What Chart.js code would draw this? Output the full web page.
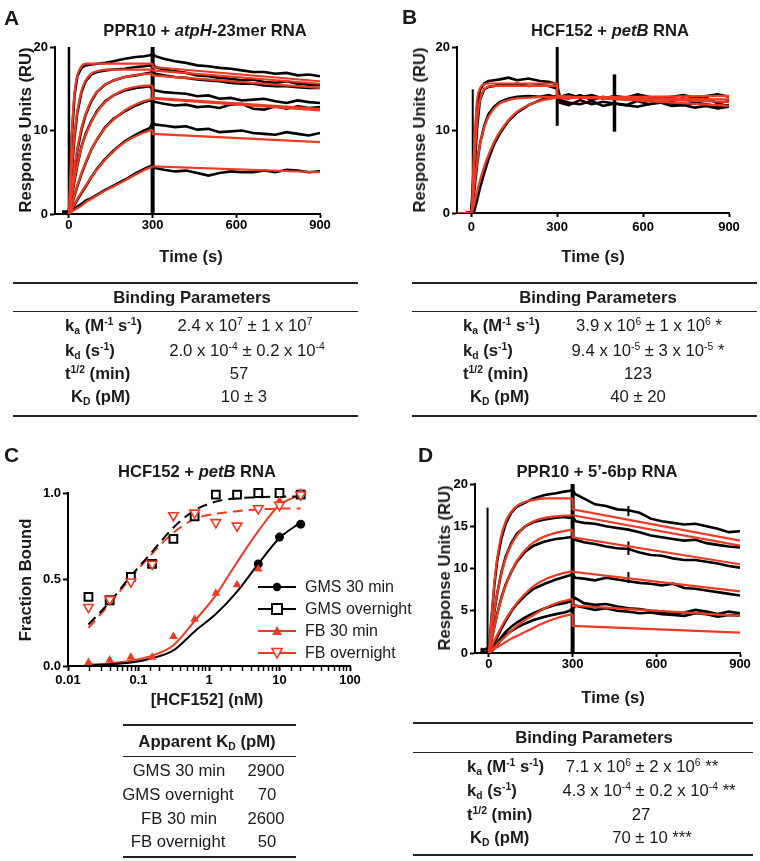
<!DOCTYPE html>
<html lang="en">
<head>
<meta charset="UTF-8">
<title>PPR10 and HCF152 binding kinetics</title>
<style>
  body { margin: 0; background: #fff; }
  #fig { position: relative; width: 760px; height: 861px; overflow: hidden;
         font-family: "Liberation Sans", Arial, Helvetica, sans-serif; color: #1a1a1a; }
  canvas { position: absolute; }
  .t { position: absolute; transform: translate(-50%, -50%); white-space: nowrap; }
  .l { position: absolute; transform: translate(0, -50%); white-space: nowrap; }
  .b { font-weight: bold; }
  .letter { position: absolute; font-weight: bold; font-size: 21px; line-height: 1; }
  .head { font-weight: bold; font-size: 16.6px; }
  .vt { transform: translate(-50%, -50%) rotate(-90deg); }
  .cell { font-size: 16.7px; }
  .rule { position: absolute; height: 0; border-top: 2px solid #222; }
  .thin { border-top-width: 1.5px; }
  sup { font-size: 0.62em; vertical-align: 0.55em; line-height: 0; }
  sub { font-size: 0.62em; vertical-align: -0.3em; line-height: 0; }
  .leg { position: absolute; transform: translate(0, -50%); white-space: nowrap; font-size: 16px; display: flex; align-items: center; }
  .leg svg { margin-right: 9px; }
</style>
</head>
<body>
<div id="fig">
  <canvas id="chartA" width="380" height="270" style="left:0;top:0"></canvas>
  <canvas id="chartB" width="380" height="270" style="left:380px;top:0"></canvas>
  <canvas id="chartC" width="380" height="290" style="left:0;top:430px"></canvas>
  <canvas id="chartD" width="380" height="290" style="left:380px;top:430px"></canvas>

  <!-- panel A -->
  <div class="letter" style="left:4px;top:7px">A</div>
  <div class="t head" style="left:205px;top:31px">PPR10 + <i>atpH</i>-23mer RNA</div>
  <div class="t head vt" style="left:26px;top:130px">Response Units (RU)</div>
  <div class="t head" style="left:191px;top:257px">Time (s)</div>
  <div class="rule" style="left:13px;top:282px;width:345px"></div>
  <div class="t b cell" style="left:192px;top:298px">Binding Parameters</div>
  <div class="rule thin" style="left:13px;top:311px;width:345px"></div>
  <div class="l b cell" style="left:65px;top:326px">k<sub>a</sub> (M<sup>-1</sup> s<sup>-1</sup>)</div>
  <div class="l b cell" style="left:65px;top:351px">k<sub>d</sub> (s<sup>-1</sup>)</div>
  <div class="l b cell" style="left:65px;top:374px">t<sup>1/2</sup> (min)</div>
  <div class="l b cell" style="left:71px;top:397px">K<sub>D</sub> (pM)</div>
  <div class="t cell" style="left:245px;top:326px">2.4 x 10<sup>7</sup> ± 1 x 10<sup>7</sup></div>
  <div class="t cell" style="left:247px;top:351px">2.0 x 10<sup>-4</sup> ± 0.2 x 10<sup>-4</sup></div>
  <div class="t cell" style="left:239px;top:374px">57</div>
  <div class="t cell" style="left:244px;top:397px">10 ± 3</div>
  <div class="rule" style="left:13px;top:415px;width:345px"></div>

  <!-- panel B -->
  <div class="letter" style="left:402px;top:6px">B</div>
  <div class="t head" style="left:610px;top:31px">HCF152 + <i>petB</i> RNA</div>
  <div class="t head vt" style="left:420px;top:130px">Response Units (RU)</div>
  <div class="t head" style="left:593px;top:257px">Time (s)</div>
  <div class="rule" style="left:412px;top:282px;width:345px"></div>
  <div class="t b cell" style="left:598px;top:298px">Binding Parameters</div>
  <div class="rule thin" style="left:412px;top:311px;width:345px"></div>
  <div class="l b cell" style="left:463px;top:326px">k<sub>a</sub> (M<sup>-1</sup> s<sup>-1</sup>)</div>
  <div class="l b cell" style="left:463px;top:351px">k<sub>d</sub> (s<sup>-1</sup>)</div>
  <div class="l b cell" style="left:463px;top:374px">t<sup>1/2</sup> (min)</div>
  <div class="l b cell" style="left:470px;top:397px">K<sub>D</sub> (pM)</div>
  <div class="t cell" style="left:649px;top:326px">3.9 x 10<sup>6</sup> ± 1 x 10<sup>6</sup> *</div>
  <div class="t cell" style="left:648px;top:351px">9.4 x 10<sup>-5</sup> ± 3 x 10<sup>-5</sup> *</div>
  <div class="t cell" style="left:638px;top:374px">123</div>
  <div class="t cell" style="left:638px;top:397px">40 ± 20</div>
  <div class="rule" style="left:412px;top:415px;width:345px"></div>

  <!-- panel C -->
  <div class="letter" style="left:4px;top:444px">C</div>
  <div class="t head" style="left:197px;top:472px">HCF152 + <i>petB</i> RNA</div>
  <div class="t head vt" style="left:26px;top:580px">Fraction Bound</div>
  <div class="t head" style="left:207px;top:700px">[HCF152] (nM)</div>
  <div class="leg" style="left:258px;top:587px"><svg width="38" height="14"><line x1="0" y1="7" x2="38" y2="7" stroke="#000" stroke-width="2"/><circle cx="19" cy="7" r="4.2" fill="#000"/></svg>GMS 30 min</div>
  <div class="leg" style="left:258px;top:609px"><svg width="38" height="14"><line x1="0" y1="7" x2="38" y2="7" stroke="#000" stroke-width="2"/><rect x="14" y="2" width="10" height="10" fill="#fff" stroke="#000" stroke-width="2"/></svg>GMS overnight</div>
  <div class="leg" style="left:258px;top:631px"><svg width="38" height="14"><line x1="0" y1="7" x2="38" y2="7" stroke="#ee3a23" stroke-width="2"/><polygon points="19,2 24,11 14,11" fill="#ee3a23"/></svg>FB 30 min</div>
  <div class="leg" style="left:258px;top:653px"><svg width="38" height="14"><line x1="0" y1="7" x2="38" y2="7" stroke="#ee3a23" stroke-width="2"/><polygon points="14,2.5 24,2.5 19,12" fill="#fff" stroke="#ee3a23" stroke-width="1.6"/></svg>FB overnight</div>
  <div class="rule" style="left:123px;top:724px;width:173px"></div>
  <div class="t b cell" style="left:207px;top:742px">Apparent K<sub>D</sub> (pM)</div>
  <div class="rule thin" style="left:123px;top:756px;width:173px"></div>
  <div class="t cell" style="left:179px;top:771px">GMS 30 min</div>
  <div class="t cell" style="left:178px;top:795px">GMS overnight</div>
  <div class="t cell" style="left:179px;top:819px">FB 30 min</div>
  <div class="t cell" style="left:178px;top:842px">FB overnight</div>
  <div class="t cell" style="left:266px;top:771px">2900</div>
  <div class="t cell" style="left:267px;top:795px">70</div>
  <div class="t cell" style="left:266px;top:819px">2600</div>
  <div class="t cell" style="left:267px;top:842px">50</div>
  <div class="rule" style="left:123px;top:856px;width:173px"></div>

  <!-- panel D -->
  <div class="letter" style="left:418px;top:444px">D</div>
  <div class="t head" style="left:597px;top:472px">PPR10 + 5’-6bp RNA</div>
  <div class="t head vt" style="left:445px;top:568px">Response Units (RU)</div>
  <div class="t head" style="left:613px;top:698px">Time (s)</div>
  <div class="rule" style="left:413px;top:722px;width:340px"></div>
  <div class="t b cell" style="left:594px;top:738px">Binding Parameters</div>
  <div class="rule thin" style="left:413px;top:752px;width:340px"></div>
  <div class="l b cell" style="left:467px;top:767px">k<sub>a</sub> (M<sup>-1</sup> s<sup>-1</sup>)</div>
  <div class="l b cell" style="left:467px;top:791px">k<sub>d</sub> (s<sup>-1</sup>)</div>
  <div class="l b cell" style="left:467px;top:815px">t<sup>1/2</sup> (min)</div>
  <div class="l b cell" style="left:470px;top:838px">K<sub>D</sub> (pM)</div>
  <div class="t cell" style="left:642px;top:767px">7.1 x 10<sup>6</sup> ± 2 x 10<sup>6</sup> **</div>
  <div class="t cell" style="left:649px;top:791px">4.3 x 10<sup>-4</sup> ± 0.2 x 10<sup>-4</sup> **</div>
  <div class="t cell" style="left:641px;top:815px">27</div>
  <div class="t cell" style="left:652px;top:838px">70 ± 10 ***</div>
  <div class="rule" style="left:413px;top:854px;width:340px"></div>
</div>

<script src="https://cdn.jsdelivr.net/npm/chart.js@4.4.1/dist/chart.umd.min.js"></script>
<script>
// ---- shared axis values ----
const timeTicks = [0, 300, 600, 900];
const ruTicksAB = [0, 10, 20];
const ruTicksD = [0, 5, 10, 15, 20];
const boundTicks = [0, 0.5, 1.0];
const concDecades = [0.01, 0.1, 1, 10, 100];

// ---- A: PPR10 + atpH-23mer (black = sensorgrams, red = fits) ----
const timeA = [-25, -15, -5, 0, 10, 20, 30, 45, 60, 80, 100, 130, 160, 200, 240, 270, 290, 300,
               310, 340, 380, 420, 460, 500, 540, 580, 620, 660, 700, 740, 780, 820, 860, 900];
const traceA1 = [0.3, 0.3, 0.3, 0.2, 9, 14.2, 16.5, 17.5, 17.8, 17.9, 18.0, 18.1, 18.3, 18.6, 18.8, 18.9, 19.0, 19.2,
                 18.9, 18.6, 18.3, 18.1, 17.8, 17.7, 17.5, 17.4, 17.2, 17.0, 17.0, 16.8, 16.9, 16.6, 16.7, 16.5];
const traceA2 = [0.2, 0.2, 0.2, 0.1, 5.0, 9.2, 12.1, 14.6, 15.9, 16.7, 17.0, 17.2, 17.3, 17.4, 17.6, 17.7, 17.8, 17.9,
                 17.6, 17.3, 17.1, 16.9, 16.6, 16.5, 16.3, 16.2, 16.0, 16.1, 15.8, 15.7, 15.9, 15.6, 15.5, 15.5];
const traceA3 = [0.1, 0.1, 0.1, 0, 2.7, 5.3, 7.6, 10.1, 11.9, 13.5, 14.6, 15.5, 16.0, 16.4, 16.6, 16.8, 16.9, 17.0,
                 16.8, 16.6, 16.4, 16.3, 16.1, 16.0, 15.9, 15.7, 15.6, 15.6, 15.4, 15.3, 15.3, 15.2, 15.1, 15.1];
const traceA4 = [0, 0, 0, 0, 2.0, 4.0, 5.8, 8.1, 9.6, 11.1, 12.3, 13.5, 14.2, 14.8, 15.1, 15.2, 15.3, 14.9,
                 14.8, 14.6, 14.5, 14.4, 14.1, 14.2, 13.8, 13.9, 13.6, 13.7, 13.8, 13.5, 13.3, 13.6, 13.4, 13.3];
const traceA5 = [0, 0, 0, 0, 1.1, 2.2, 3.3, 4.8, 6.1, 7.7, 8.9, 10.4, 11.4, 12.3, 13.0, 13.4, 13.6, 13.5,
                 13.4, 13.2, 13.0, 13.1, 12.8, 12.9, 12.7, 13.1, 13.2, 12.6, 12.5, 12.9, 12.6, 12.9, 12.7, 12.8];
const traceA6 = [0, 0, 0, 0, 0.5, 1.1, 1.7, 2.5, 3.3, 4.4, 5.4, 6.6, 7.6, 8.7, 9.5, 10.0, 10.3, 10.9,
                 10.7, 10.6, 10.4, 10.5, 10.1, 10.2, 9.8, 9.9, 10.0, 9.7, 9.6, 9.5, 9.8, 9.6, 9.4, 9.7];
const traceA7 = [0.2, 0.1, 0, 0, 0.4, 0.6, 0.9, 1.2, 1.6, 1.9, 2.3, 2.9, 3.4, 4.1, 4.9, 5.4, 5.7, 5.8,
                 5.5, 5.3, 5.1, 5.2, 4.9, 4.6, 4.9, 5.1, 5.0, 5.0, 5.2, 5.0, 5.3, 5.2, 5.0, 5.1];
const fitTimeA = [0, 10, 20, 30, 45, 60, 80, 100, 130, 160, 200, 250, 300, 300, 900];
const fitA1 = [0, 9.5, 14.5, 16.6, 17.7, 18.0, 18.0, 18.0, 18.0, 18.0, 18.0, 18.0, 18.0, 17.6, 15.9];
const fitA2 = [0, 5.5, 9.5, 12.3, 14.8, 16.0, 16.8, 17.1, 17.3, 17.3, 17.3, 17.3, 17.3, 17.2, 15.6];
const fitA3 = [0, 3.0, 5.6, 7.8, 10.3, 12.0, 13.6, 14.6, 15.5, 16.0, 16.4, 16.7, 16.8, 16.6, 15.1];
const fitA4 = [0, 2.2, 4.2, 5.9, 8.0, 9.5, 11.0, 12.2, 13.4, 14.2, 14.9, 15.3, 15.4, 13.9, 12.6];
const fitA5 = [0, 1.2, 2.3, 3.4, 4.9, 6.2, 7.7, 8.9, 10.3, 11.3, 12.4, 13.3, 13.8, 13.8, 12.4];
const fitA6 = [0, 0.6, 1.2, 1.8, 2.6, 3.4, 4.4, 5.3, 6.5, 7.5, 8.6, 9.5, 10.1, 9.6, 8.6];
const fitA7 = [0, 0.3, 0.5, 0.7, 1.0, 1.4, 1.8, 2.2, 2.8, 3.3, 4.0, 4.9, 5.7, 5.7, 5.0];
// injection artefacts: [time, low RU, high RU]
const spikesA = [[0, 0, 20], [300, 0, 20]];

// ---- B: HCF152 + petB ----
const timeB = [-20, -10, 0, 10, 20, 30, 45, 60, 80, 100, 130, 160, 200, 240, 270, 290, 300,
               310, 340, 380, 420, 460, 500, 540, 580, 620, 660, 700, 740, 780, 820, 860, 900];
const traceB1 = [0, 0, 0.2, 6.5, 12.8, 14.8, 15.6, 15.9, 16.0, 16.1, 16.3, 16.0, 16.2, 15.9, 15.8, 15.6, 15.4,
                 13.9, 13.8, 14.2, 13.6, 14.0, 13.7, 13.9, 14.1, 13.6, 13.9, 13.5, 13.8, 13.4, 13.9, 13.2, 13.5];
const traceB2 = [0, 0, 0, 4.5, 10.2, 13.6, 14.9, 15.2, 15.3, 15.5, 15.4, 15.6, 15.3, 15.4, 15.3, 15.1, 15.0,
                 13.3, 13.0, 13.6, 13.1, 13.4, 13.2, 13.0, 13.5, 13.1, 13.4, 13.2, 13.0, 13.3, 13.1, 12.9, 13.0];
const traceB3 = [0, 0, 0, 2.6, 5.8, 8.3, 10.5, 11.9, 12.8, 13.4, 13.8, 14.0, 14.1, 14.0, 14.2, 14.0, 14.1,
                 14.0, 14.3, 13.9, 14.2, 13.8, 14.1, 13.9, 14.3, 14.0, 13.7, 14.0, 14.2, 13.9, 14.1, 14.3, 14.0];
const traceB4 = [0, 0, -0.1, 0.2, 1.5, 3.0, 4.8, 6.5, 8.3, 9.6, 11.1, 12.1, 13.0, 13.6, 13.9, 14.0, 14.1,
                 13.6, 13.3, 13.1, 13.5, 12.9, 13.2, 13.0, 12.8, 13.1, 13.3, 12.9, 13.0, 12.7, 12.9, 12.6, 12.8];
const fitTimeB = [-50, 0, 10, 20, 30, 45, 60, 80, 100, 130, 160, 200, 250, 300, 300, 900];
const fitB1 = [0, 0, 8.0, 13.5, 15.0, 15.5, 15.6, 15.6, 15.6, 15.6, 15.6, 15.6, 15.6, 15.6, 14.1, 12.9];
const fitB2 = [0, 0, 5.5, 11.0, 13.6, 14.9, 15.2, 15.3, 15.3, 15.3, 15.3, 15.3, 15.3, 15.3, 14.0, 13.4];
const fitB3 = [0, 0, 3.2, 6.0, 8.2, 10.3, 11.6, 12.6, 13.2, 13.6, 13.8, 13.9, 14.0, 14.0, 13.9, 14.1];
const fitB4 = [0, 0, 1.2, 2.6, 3.9, 5.6, 7.0, 8.6, 9.8, 11.2, 12.2, 13.0, 13.6, 13.9, 13.9, 13.7];
const spikesB = [[5, 0, 14.9], [300, 10.5, 20], [500, 9.8, 16.7]];

// ---- C: HCF152 + petB equilibrium (nM vs fraction bound) ----
const concC = [0.0195, 0.039, 0.078, 0.156, 0.3125, 0.625, 1.25, 2.5, 5, 10, 20];
const gms30Conc = [5, 10, 20];
const gms30 = [0.59, 0.745, 0.82];
const gmsOvernight = [0.40, 0.38, 0.515, 0.59, 0.735, 0.865, 0.99, 0.99, 1.0, 1.0, 0.99];
const fb30 = [0.02, 0.035, 0.05, 0.05, 0.17, 0.27, 0.42, 0.47, 0.56, 0.955, 1.0];
const fbOvernight = [0.34, 0.385, 0.487, 0.59, 0.87, 0.885, 0.83, 0.81, 0.91, 0.93, 0.99];
const gms30Fit = [0.005, 0.01, 0.02, 0.045, 0.09, 0.2, 0.3, 0.43, 0.59, 0.74, 0.83];
const gmsOvernightFit = [0.24, 0.37, 0.52, 0.66, 0.80, 0.90, 0.95, 0.97, 0.975, 0.98, 0.98];
const fb30Fit = [0.007, 0.015, 0.03, 0.06, 0.12, 0.26, 0.41, 0.6, 0.78, 0.93, 0.99];
const fbOvernightFit = [0.22, 0.36, 0.51, 0.65, 0.77, 0.85, 0.88, 0.895, 0.905, 0.91, 0.91];

// ---- D: PPR10 + 5'-6bp ----
const timeD = [-30, -20, -10, 0, 10, 20, 30, 45, 60, 80, 100, 130, 160, 200, 240, 270, 290, 300,
               310, 340, 380, 420, 460, 500, 540, 580, 620, 660, 700, 740, 780, 820, 860, 900];
const traceD1 = [0.5, 0.4, 0.5, 0.2, 4.5, 8.2, 11.0, 13.6, 15.3, 16.6, 17.3, 17.8, 18.3, 18.7, 18.9, 19.1, 19.2, 19.3,
                 18.8, 18.3, 17.6, 17.4, 17.0, 16.9, 16.6, 15.9, 15.6, 15.4, 15.2, 15.3, 15.0, 14.7, 14.3, 14.4];
const traceD2 = [0.2, 0.2, 0.1, 0, 2.6, 5.0, 7.1, 9.6, 11.4, 13.0, 14.1, 15.0, 15.5, 15.8, 16.0, 16.1, 16.0, 16.2,
                 15.6, 15.4, 15.3, 15.0, 14.8, 14.6, 14.3, 13.9, 13.7, 13.5, 13.3, 13.4, 13.0, 12.8, 12.6, 12.5];
const traceD3 = [0, 0, 0, 0, 1.6, 3.2, 4.7, 6.6, 8.1, 9.6, 10.8, 12.0, 12.7, 13.2, 13.5, 13.6, 13.7, 13.8,
                 13.4, 13.1, 12.9, 12.6, 12.4, 12.3, 11.9, 11.6, 11.5, 11.2, 11.0, 11.0, 10.8, 10.6, 10.3, 10.1];
const traceD4 = [0, 0, 0, 0, 0.6, 1.2, 1.9, 2.9, 3.8, 4.9, 5.8, 6.8, 7.6, 8.2, 8.7, 9.0, 9.2, 9.3,
                 8.9, 8.8, 8.6, 8.9, 8.7, 8.5, 8.3, 8.2, 8.0, 8.2, 7.7, 7.6, 7.4, 7.2, 7.0, 6.8];
const traceD5 = [0, 0, 0, 0, 0.4, 0.8, 1.2, 1.9, 2.5, 3.1, 3.6, 4.2, 4.7, 5.3, 5.7, 5.9, 6.1, 6.3,
                 6.5, 5.9, 5.7, 5.8, 5.5, 5.3, 5.2, 5.0, 4.9, 4.7, 4.8, 5.1, 4.9, 4.6, 4.9, 4.7];
const traceD6 = [0, 0, 0, 0, 0.2, 0.6, 1.0, 1.6, 2.1, 2.6, 3.0, 3.5, 3.9, 4.3, 4.6, 4.8, 5.0, 5.3,
                 5.6, 5.4, 5.1, 5.3, 5.0, 4.9, 4.7, 4.8, 4.6, 4.5, 4.4, 4.7, 4.6, 4.3, 4.5, 4.4];
const fitTimeD = [0, 20, 40, 60, 80, 100, 130, 160, 200, 250, 300, 300, 900];
const fitD1 = [0, 8.5, 13.3, 15.6, 16.7, 17.4, 17.9, 18.1, 18.3, 18.3, 18.3, 17.0, 13.3];
const fitD2 = [0, 5.2, 8.8, 11.2, 12.8, 13.9, 15.0, 15.6, 16.0, 16.2, 16.3, 16.3, 12.7];
const fitD3 = [0, 3.2, 5.9, 8.0, 9.6, 10.9, 12.2, 13.1, 13.8, 14.3, 14.6, 13.7, 10.5];
const fitD4 = [0, 1.5, 2.8, 4.0, 5.0, 5.9, 7.0, 7.9, 8.7, 9.3, 9.7, 9.6, 7.3];
const fitD5 = [0, 0.7, 1.4, 2.0, 2.6, 3.2, 3.9, 4.5, 5.3, 6.0, 6.4, 5.6, 4.4];
const fitD6 = [0, 0.5, 0.9, 1.3, 1.7, 2.0, 2.5, 3.0, 3.6, 4.2, 4.6, 3.2, 2.4];
const spikesD = [[-5, 0, 17.2], [300, 0, 20], [500, 16.2, 17.4], [500, 11.6, 13.2], [500, 8.3, 9.6]];

// ---------------------------------------------------------------------------
const FONT = '"Liberation Sans", Arial, Helvetica, sans-serif';
const RED = '#ee3a23';

function toPoints(xs, ys) {
    return xs.map((x, i) => ({ x: x, y: ys[i] }));
}

// fit curves have the time 300 twice (end of injection); split there
function splitAtJump(times, values) {
    const k = times.findIndex((t, i) => i > 0 && t === times[i - 1]);
    return [toPoints(times.slice(0, k), values.slice(0, k)),
            toPoints(times.slice(k - 1), values.slice(k - 1))];
}

function axisBase(tickLen, pad) {
    return {
        border: { display: true, color: '#000', width: 2 },
        grid: { display: true, drawOnChartArea: false, drawTicks: true, tickLength: tickLen, tickColor: '#000', tickWidth: 2 },
        ticks: { color: '#000', padding: pad, autoSkip: false, maxRotation: 0,
                 font: { family: FONT, size: 13, weight: 'bold' } }
    };
}

function sensorDatasets(time, traces, fitTime, fits, spikes, spikeWidths) {
    const sets = [];
    traces.forEach(v => sets.push({
        data: toPoints(time, v), borderColor: '#000', borderWidth: 2.6,
        pointRadius: 0, tension: 0, order: 3
    }));
    fits.forEach(v => {
        const parts = splitAtJump(fitTime, v);
        sets.push({ data: parts[0], borderColor: RED, borderWidth: 2.2, pointRadius: 0,
                    cubicInterpolationMode: 'monotone', order: 1 });
        sets.push({ data: parts[1], borderColor: RED, borderWidth: 2.2, pointRadius: 0, tension: 0, order: 1 });
    });
    spikes.forEach((s, i) => sets.push({
        data: [{ x: s[0], y: s[1] }, { x: s[0], y: s[2] }], borderColor: '#000',
        borderWidth: spikeWidths[i], pointRadius: 0, order: 2, clip: false
    }));
    return sets;
}

function sensorChart(id, datasets, yTicks, box) {
    const x = axisBase(box.tickLen, box.xPad);
    Object.assign(x, {
        type: 'linear', min: -50, max: 900,
        afterBuildTicks: s => { s.ticks = timeTicks.map(v => ({ value: v })); },
        afterFit: s => { s.height = box.xHeight; }
    });
    const y = axisBase(5, 2);
    Object.assign(y, {
        type: 'linear', min: 0, max: 20,
        afterBuildTicks: s => { s.ticks = yTicks.map(v => ({ value: v })); },
        afterFit: s => { s.width = box.yWidth; }
    });
    return new Chart(document.getElementById(id), {
        type: 'line',
        data: { datasets: datasets },
        options: {
            responsive: false, animation: false,
            layout: { padding: { top: box.top, right: box.right, bottom: 0, left: 0 } },
            plugins: { legend: { display: false }, tooltip: { enabled: false } },
            scales: { x: x, y: y }
        }
    });
}

sensorChart('chartA',
    sensorDatasets(timeA, [traceA1, traceA2, traceA3, traceA4, traceA5, traceA6, traceA7],
                   fitTimeA, [fitA1, fitA2, fitA3, fitA4, fitA5, fitA6, fitA7], spikesA, [2.5, 4]),
    ruTicksAB, { top: 47, right: 60, yWidth: 55, xHeight: 56, tickLen: 4, xPad: 0 });

sensorChart('chartB',
    sensorDatasets(timeB, [traceB1, traceB2, traceB3, traceB4],
                   fitTimeB, [fitB1, fitB2, fitB3, fitB4], spikesB, [2, 3, 3.5]),
    ruTicksAB, { top: 47, right: 31, yWidth: 77, xHeight: 57, tickLen: 4, xPad: 3 });

sensorChart('chartD',
    sensorDatasets(timeD, [traceD1, traceD2, traceD3, traceD4, traceD5, traceD6],
                   fitTimeD, [fitD1, fitD2, fitD3, fitD4, fitD5, fitD6], spikesD, [2, 4, 2, 2, 2]),
    ruTicksD, { top: 54, right: 20, yWidth: 95, xHeight: 67, tickLen: 4, xPad: 0 });

// ---- panel C ----
(function () {
    const curve = (vals, color, dash) => ({
        data: toPoints(concC, vals), borderColor: color, borderWidth: 2, borderDash: dash,
        pointRadius: 0, cubicInterpolationMode: 'monotone', order: 2
    });
    const marks = (xs, vals, opts) => Object.assign({
        data: toPoints(xs, vals), showLine: false, clip: false, order: 1
    }, opts);

    const x = axisBase(5, 2);
    Object.assign(x, {
        type: 'logarithmic', min: 0.01, max: 100,
        afterFit: s => { s.height = 54; }
    });
    x.grid.tickWidth = ctx => concDecades.includes(+ctx.tick.value.toPrecision(2)) ? 2 : 1.5;
    x.ticks.callback = v => {
        const r = +Number(v).toPrecision(2);
        return concDecades.includes(r) ? String(r) : '';
    };
    const y = axisBase(5, 2);
    Object.assign(y, {
        type: 'linear', min: 0, max: 1,
        afterBuildTicks: s => { s.ticks = boundTicks.map(v => ({ value: v })); },
        afterFit: s => { s.width = 68; }
    });
    y.ticks.callback = v => Number(v).toFixed(1);

    new Chart(document.getElementById('chartC'), {
        type: 'line',
        data: {
            datasets: [
                curve(gms30Fit, '#000', []),
                curve(gmsOvernightFit, '#000', [10, 6]),
                curve(fb30Fit, RED, []),
                curve(fbOvernightFit, RED, [10, 6]),
                marks(concC, gmsOvernight, { pointStyle: 'rect', pointRadius: 5.5, borderWidth: 2,
                                             borderColor: '#000', backgroundColor: '#fff', order: 1 }),
                marks(gms30Conc, gms30, { pointStyle: 'circle', pointRadius: 4.5, borderWidth: 0,
                                          borderColor: '#000', backgroundColor: '#000', order: 1 }),
                marks(concC, fbOvernight, { pointStyle: 'triangle', rotation: 180, pointRadius: 5.5,
                                            borderWidth: 1.6, borderColor: RED, backgroundColor: '#fff', order: 0 }),
                marks(concC, fb30, { pointStyle: 'triangle', pointRadius: 5, borderWidth: 0,
                                     borderColor: RED, backgroundColor: RED, order: 0 })
            ]
        },
        options: {
            responsive: false, animation: false,
            layout: { padding: { top: 63, right: 30, bottom: 0, left: 0 } },
            plugins: { legend: { display: false }, tooltip: { enabled: false } },
            scales: { x: x, y: y }
        }
    });
})();
</script>
</body>
</html>
